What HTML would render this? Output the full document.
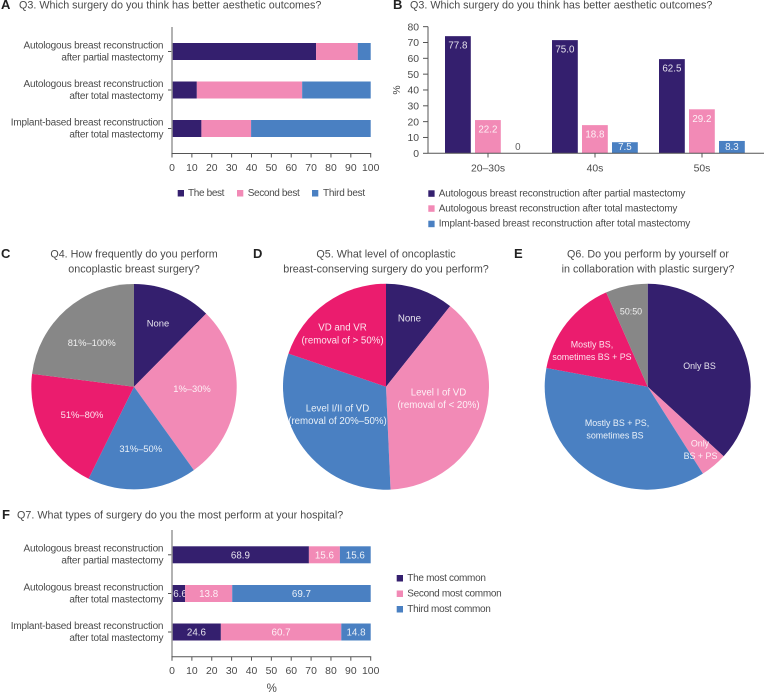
<!DOCTYPE html>
<html lang="en">
<head>
<meta charset="utf-8">
<title>Survey results on oncoplastic breast surgery</title>
<style>
html,body{margin:0;padding:0;background:#fff}
svg{display:block}
text{font-family:"Liberation Sans",sans-serif;font-size:10px;fill:#4a4a4a}
.ttl{font-size:10.75px;fill:#4a4a4a}
.pan{font-size:13px;font-weight:bold;fill:#222}
.cat{font-size:10px;letter-spacing:-.2px;text-anchor:end}
.tick{font-size:10.4px;text-anchor:middle}
.leg{font-size:10px;letter-spacing:-.2px}
.val{font-size:9.8px;fill:#fff;text-anchor:middle;fill-opacity:.88}
.pl{font-size:9.4px;fill:#fff;text-anchor:middle;fill-opacity:.88}
.pd{font-size:9.7px}
.pe{font-size:8.9px}
</style>
</head>
<body>
<svg id="fig" xmlns="http://www.w3.org/2000/svg" width="764" height="694" viewBox="0 0 764 694">
  <text class="pan" x="1" y="9">A</text>
  <text class="ttl" x="19" y="8.7">Q3. Which surgery do you think has better aesthetic outcomes?</text>
  <text class="pan" x="393" y="9">B</text>
  <text class="ttl" x="410" y="8.7">Q3. Which surgery do you think has better aesthetic outcomes?</text>
  <text class="pan" x="1" y="258">C</text>
  <text class="ttl" text-anchor="middle" x="134" y="257.3">Q4. How frequently do you perform</text>
  <text class="ttl" text-anchor="middle" x="134" y="272.3">oncoplastic breast surgery?</text>
  <text class="pan" x="253" y="258">D</text>
  <text class="ttl" text-anchor="middle" x="386" y="257.3">Q5. What level of oncoplastic</text>
  <text class="ttl" text-anchor="middle" x="386" y="272.3">breast-conserving surgery do you perform?</text>
  <text class="pan" x="514" y="258">E</text>
  <text class="ttl" text-anchor="middle" x="648" y="257.3">Q6. Do you perform by yourself or</text>
  <text class="ttl" text-anchor="middle" x="648" y="272.3">in collaboration with plastic surgery?</text>
  <text class="pan" x="2" y="519">F</text>
  <text class="ttl" x="17" y="518.3">Q7. What types of surgery do you the most perform at your hospital?</text>

  <g id="pies"></g>

  <g>
    <text class="pl" x="158" y="326.5">None</text>
    <text class="pl" x="192" y="392">1%–30%</text>
    <text class="pl" x="140.7" y="452">31%–50%</text>
    <text class="pl" x="82" y="418">51%–80%</text>
    <text class="pl" x="91.7" y="346">81%–100%</text>
  </g>
  <g>
    <text class="pl pd" x="409.5" y="321.5">None</text>
    <text class="pl pd" x="342.5" y="330.5">VD and VR</text>
    <text class="pl pd" x="342.5" y="343.5">(removal of &gt; 50%)</text>
    <text class="pl pd" x="438.5" y="395.5">Level I of VD</text>
    <text class="pl pd" x="438.5" y="408">(removal of &lt; 20%)</text>
    <text class="pl pd" x="337.5" y="411.5">Level I/II of VD</text>
    <text class="pl pd" x="337.5" y="424">(removal of 20%–50%)</text>
  </g>
  <g>
    <text class="pl pe" x="699.5" y="369">Only BS</text>
    <text class="pl pe" x="631" y="314.5">50:50</text>
    <text class="pl pe" x="592" y="347.5">Mostly BS,</text>
    <text class="pl pe" x="592" y="360">sometimes BS + PS</text>
    <text class="pl pe" x="617" y="426">Mostly BS + PS,</text>
    <text class="pl pe" x="615" y="438.5">sometimes BS</text>
    <text class="pl pe" x="700" y="446.5">Only</text>
    <text class="pl pe" x="700.5" y="459">BS + PS</text>
  </g>

  <g>
    <rect x="177.7" y="190" width="6.3" height="6.5" fill="#341f6e"/>
    <text class="leg" style="letter-spacing:-.35px" x="188" y="196">The best</text>
    <rect x="237" y="190" width="6.3" height="6.5" fill="#f28ab6"/>
    <text class="leg" style="letter-spacing:-.35px" x="247.7" y="196">Second best</text>
    <rect x="312" y="190" width="6.3" height="6.5" fill="#4a80c2"/>
    <text class="leg" style="letter-spacing:-.25px" x="323" y="196">Third best</text>
  </g>
  <g>
    <rect x="428.3" y="190.3" width="6.3" height="6.5" fill="#341f6e"/>
    <text class="leg" style="letter-spacing:-.16px" x="438.7" y="196.3">Autologous breast reconstruction after partial mastectomy</text>
    <rect x="428.3" y="205.3" width="6.3" height="6.5" fill="#f28ab6"/>
    <text class="leg" style="letter-spacing:-.16px" x="438.7" y="211.3">Autologous breast reconstruction after total mastectomy</text>
    <rect x="428.3" y="220.7" width="6.3" height="6.5" fill="#4a80c2"/>
    <text class="leg" style="letter-spacing:-.16px" x="438.7" y="226.7">Implant-based breast reconstruction after total mastectomy</text>
  </g>
  <g>
    <rect x="396.7" y="575" width="6.3" height="6.5" fill="#341f6e"/>
    <text class="leg" style="letter-spacing:-.3px" x="407.3" y="581">The most common</text>
    <rect x="396.7" y="590.5" width="6.3" height="6.5" fill="#f28ab6"/>
    <text class="leg" style="letter-spacing:-.3px" x="407.3" y="596.5">Second most common</text>
    <rect x="396.7" y="606" width="6.3" height="6.5" fill="#4a80c2"/>
    <text class="leg" style="letter-spacing:-.3px" x="407.3" y="612">Third most common</text>
  </g>
  <text class="tick" x="271.7" y="692" style="font-size:11.5px">%</text>
  <text class="tick" transform="translate(400 90) rotate(-90)" x="0" y="0">%</text>
</svg>
<script>
// Shared category labels
const surgeryLine1 = ["Autologous breast reconstruction", "Autologous breast reconstruction", "Implant-based breast reconstruction"];
const surgeryLine2 = ["after partial mastectomy", "after total mastectomy", "after total mastectomy"];
const axisTicks100 = [0, 10, 20, 30, 40, 50, 60, 70, 80, 90, 100];

// Panel A
const aBest = [72.5, 12.5, 14.8];
const aSecond = [21, 53, 25];
const aThird = [6.5, 34.5, 60.2];

// Panel B
const bGroups = ["20–30s", "40s", "50s"];
const bPartial = [74, 71.5, 59.5];
const bTotal = [21, 17.8, 27.8];
const bImplant = [0, 7, 7.8];
const bPartialLabels = ["77.8", "75.0", "62.5"];
const bTotalLabels = ["22.2", "18.8", "29.2"];
const bImplantLabels = ["0", "7.5", "8.3"];
const bYTicks = [0, 10, 20, 30, 40, 50, 60, 70, 80];

// Pies
const pieCNames = ["None", "1%-30%", "31%-50%", "51%-80%", "81%-100%"];
const pieCValues = [12.4, 27.7, 17.2, 19.7, 23];
const pieDNames = ["None", "Level I of VD", "Level I/II of VD", "VD and VR"];
const pieDValues = [10.7, 38.6, 30.9, 19.8];
const pieENames = ["Only BS", "Only BS + PS", "Mostly BS + PS", "Mostly BS", "50:50"];
const pieEValues = [36.8, 4.2, 36.9, 15.5, 6.6];

// Panel F
const fMost = [68.9, 6.6, 24.6];
const fSecond = [15.6, 23.7, 60.6];
const fThird = [15.5, 69.7, 14.8];
const fMostLabels = ["68.9", "6.6", "24.6"];
const fSecondLabels = ["15.6", "13.8", "60.7"];
const fThirdLabels = ["15.6", "69.7", "14.8"];

const NS = "http://www.w3.org/2000/svg";
const fig = document.getElementById("fig");
const DARK = "#341f6e", PINK = "#f28ab6", BLUE = "#4a80c2", RED = "#eb1c6e", GREY = "#878787";

function node(tag, attrs, parent) {
  const el = document.createElementNS(NS, tag);
  for (const k in attrs) el.setAttribute(k, attrs[k]);
  (parent || fig).appendChild(el);
  return el;
}

function stackedChart(id, top, bottom, barTops, series, labels) {
  const xScale = v => 172 + v * 1.987;
  const g = node("g", {});
  
  
  const colours = [DARK, PINK, BLUE];

  barTops.forEach((y, row) => {
    let cum = 0;
    series.forEach((vals, s) => {
      const r = node("rect", {x: xScale(cum), y: y, width: xScale(cum + vals[row]) - xScale(cum), height: 17, fill: colours[s]}, g);
      
      
      if (labels) {
        const t = node("text", {class: "val", x: Math.max(xScale(cum + vals[row] / 2), 180), y: y + 12.2}, g);
        
        
        t.textContent = labels[s][row];
      }
      cum += vals[row];
    });
    const mid = y + 8.5;
    const l1 = node("text", {class: "cat", x: 163.3, y: mid - 3.1}, g);
    
    
    l1.textContent = surgeryLine1[row];
    const l2 = node("text", {class: "cat", x: 163.3, y: mid + 8.9}, g);
    
    
    l2.textContent = surgeryLine2[row];
    const tk = node("line", {x1: 168, x2: 172, y1: mid, y2: mid, stroke: "#555", "stroke-width": 1}, g);
    
    
  });

  const yAxis = node("line", {x1: 172, x2: 172, y1: top, y2: bottom, stroke: "#999", "stroke-width": 1.5}, g);
  
  
  const xAxis = node("line", {x1: 171.5, x2: 371.2, y1: bottom, y2: bottom, stroke: "#555", "stroke-width": 1}, g);
  
  
  axisTicks100.forEach(v => {
    const t = node("line", {x1: xScale(v), x2: xScale(v), y1: bottom, y2: bottom + 4, stroke: "#555", "stroke-width": 1}, g);
    
    
    const lab = node("text", {class: "tick", x: xScale(v), y: bottom + 17.5}, g);
    
    
    lab.textContent = v;
  });
}

function groupedChart() {
  const yScale = v => 153.3 - v * 1.583;
  const groupCentre = i => 488 + i * 107;
  const g = node("g", {});
  
  
  const sets = [[bPartial, bPartialLabels, DARK, -43], [bTotal, bTotalLabels, PINK, -13], [bImplant, bImplantLabels, BLUE, 17]];
  bGroups.forEach((name, i) => {
    sets.forEach(set => {
      const v = set[0][i];
      const x = groupCentre(i) + set[3];
      const r = node("rect", {x: x, y: yScale(v), width: 25.8, height: yScale(0) - yScale(v), fill: set[2]}, g);
      
      
      const t = node("text", {class: "val", x: x + 12.9, y: Math.min(yScale(v) + 12.5, 150)}, g);
      
      
      t.textContent = set[1][i];
      if (v === 0) t.setAttribute("style", "fill:#4a4a4a");
    });
    const tk = node("line", {x1: groupCentre(i), x2: groupCentre(i), y1: 153.3, y2: 157.5, stroke: "#555", "stroke-width": 1}, g);
    
    
    const lab = node("text", {class: "tick", x: groupCentre(i), y: 171.7}, g);
    
    
    lab.textContent = name;
  });
  const yAxis = node("line", {x1: 428, x2: 428, y1: yScale(80), y2: yScale(0), stroke: "#555", "stroke-width": 1}, g);
  
  
  const xAxis = node("line", {x1: 428, x2: 764, y1: yScale(0), y2: yScale(0), stroke: "#555", "stroke-width": 1}, g);
  
  
  bYTicks.forEach(v => {
    const t = node("line", {x1: 423, x2: 428, y1: yScale(v), y2: yScale(v), stroke: "#555", "stroke-width": 1}, g);
    
    
    const lab = node("text", {class: "tick", x: 419, y: yScale(v) + 3.7, "text-anchor": "end", style: "text-anchor:end"}, g);
    
    
    lab.textContent = v;
  });
}

function pie(id, cx, cy, r, names, values, colours) {
  const parent = document.getElementById("pies");
  const g = node("g", {}, parent);
  
  
  const total = values.reduce((a, b) => a + b, 0);
  let cum = 0;
  values.forEach((v, i) => {
    const a0 = cum / total * 2 * Math.PI;
    cum += v;
    const a1 = cum / total * 2 * Math.PI;
    const large = a1 - a0 > Math.PI ? 1 : 0;
    const d = "M" + cx + " " + cy +
      "L" + (cx + r * Math.sin(a0)) + " " + (cy - r * Math.cos(a0)) +
      "A" + r + " " + r + " 0 " + large + " 1 " + (cx + r * Math.sin(a1)) + " " + (cy - r * Math.cos(a1)) + "Z";
    const p = node("path", {d: d, fill: colours[i]}, g);
    
    
    p.setAttribute("aria-label", names[i]);
  });
}

pie("pie-c", 134, 386.7, 102.7, pieCNames, pieCValues, [DARK, PINK, BLUE, RED, GREY]);
pie("pie-d", 386, 386.7, 103, pieDNames, pieDValues, [DARK, PINK, BLUE, RED]);
pie("pie-e", 647.7, 386.7, 103, pieENames, pieEValues, [DARK, PINK, BLUE, RED, GREY]);
stackedChart("panel-a-stacked-bar-chart", 27, 153.5, [43, 81.5, 120], [aBest, aSecond, aThird], null);
groupedChart();
stackedChart("panel-f-stacked-bar-chart", 530, 656.7, [546.3, 585, 623.5], [fMost, fSecond, fThird], [fMostLabels, fSecondLabels, fThirdLabels]);
</script>
</body>
</html>
